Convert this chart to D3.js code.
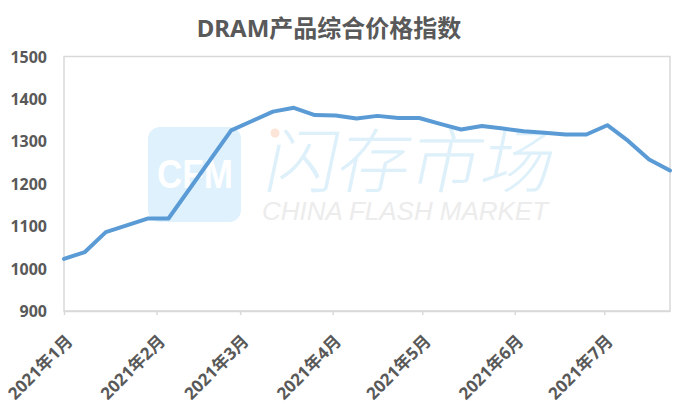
<!DOCTYPE html>
<html><head><meta charset="utf-8">
<script src="https://cdn.jsdelivr.net/npm/d3@7"></script>
<style>
html,body{margin:0;padding:0;background:#fff;}
svg{display:block;}
</style></head>
<body>
<svg id="chart" width="680" height="405"></svg>
<script>
const titleText = "DRAM产品综合价格指数";
const dates = ["2021-01-01","2021-01-08","2021-01-15","2021-01-22","2021-01-29","2021-02-05",
  "2021-02-26","2021-03-05","2021-03-12","2021-03-19","2021-03-26","2021-04-02","2021-04-09",
  "2021-04-16","2021-04-23","2021-04-30","2021-05-07","2021-05-14","2021-05-21","2021-05-28",
  "2021-06-04","2021-06-11","2021-06-18","2021-06-25","2021-07-02","2021-07-09","2021-07-16","2021-07-23"];
const values = [1023,1039,1086,1102,1118,1118,
  1326,1348,1370,1379,1362,1361,1354,
  1360,1355,1355,1341,1328,1336,1330,
  1324,1320,1316,1316,1338,1301,1257,1231];
const monthTicks = ["2021-01-01","2021-02-01","2021-03-01","2021-04-01","2021-05-01","2021-06-01","2021-07-01"];
const monthLabels = ["2021年1月","2021年2月","2021年3月","2021年4月","2021年5月","2021年6月","2021年7月"];
const yTicks = [900,1000,1100,1200,1300,1400,1500];
const domainEnd = "2021-07-23";

const parse = d3.timeParse("%Y-%m-%d");
const svg = d3.select("#chart");
const L = 64, R = 670, T = 56.5, B = 311;
const x = d3.scaleTime().domain([parse(dates[0]), parse(domainEnd)]).range([L, R]);
const y = d3.scaleLinear().domain([900, 1500]).range([B, T]);
const fontLatin = "'Noto Sans','Noto Sans CJK SC',sans-serif";
const textColor = "#595959";

// Title
svg.append("text").attr("x", 329).attr("y", 37).attr("text-anchor", "middle")
  .attr("font-family", fontLatin).attr("font-weight", "bold").attr("font-size", 24)
  .attr("fill", textColor).text(titleText);

// Watermark
const wm = svg.append("g");
wm.append("rect").attr("x", 148).attr("y", 127).attr("width", 93).attr("height", 95)
  .attr("rx", 12).attr("fill", "#def1fc");
wm.append("text").attr("x", 157).attr("y", 188).attr("textLength", 76).attr("lengthAdjust", "spacingAndGlyphs")
  .attr("font-family", "'Liberation Sans',Arial,sans-serif").attr("font-weight", "bold").attr("font-size", 41)
  .attr("fill", "#ffffff").text("CFM");
wm.append("text").attr("x", 0).attr("y", 0)
  .attr("transform", "translate(262,187) skewX(-12)")
  .attr("textLength", 288).attr("lengthAdjust", "spacingAndGlyphs")
  .attr("font-family", "'Noto Sans CJK SC',sans-serif").attr("font-weight", 300).attr("font-size", 70)
  .attr("fill", "#def0fa").text("闪存市场");
wm.append("circle").attr("cx", 275).attr("cy", 133).attr("r", 4.5).attr("fill", "#fde4d8");
wm.append("text").attr("x", 262).attr("y", 220).attr("textLength", 286).attr("lengthAdjust", "spacingAndGlyphs")
  .attr("font-family", "'Liberation Sans',Arial,sans-serif").attr("font-style", "italic").attr("font-size", 25)
  .attr("fill", "#ececec").text("CHINA FLASH MARKET");

// Plot border
svg.append("rect").attr("x", L).attr("y", T).attr("width", R - L).attr("height", B - T)
  .attr("fill", "none").attr("stroke", "#d9d9d9").attr("stroke-width", 1.5);

// X axis
const xAxis = d3.axisBottom(x).tickValues(monthTicks.map(parse))
  .tickFormat((d, i) => monthLabels[i]).tickSize(4).tickSizeOuter(0);
const gx = svg.append("g").attr("transform", `translate(0,${B})`).call(xAxis);
gx.select(".domain").attr("stroke", "#d9d9d9").attr("stroke-width", 1.5);
gx.selectAll(".tick line").attr("stroke", "#d9d9d9").attr("stroke-width", 1.5);
gx.selectAll(".tick text")
  .attr("font-family", fontLatin).attr("font-weight", "bold").attr("font-size", 17)
  .attr("fill", textColor).attr("text-anchor", "end")
  .attr("x", 0).attr("y", 0).attr("dy", "0.35em")
  .attr("transform", "translate(5,27) rotate(-45)");

// Y axis
const yAxis = d3.axisLeft(y).tickValues(yTicks).tickFormat(d3.format("d")).tickSize(0).tickPadding(0);
const gy = svg.append("g").attr("transform", `translate(47,0)`).call(yAxis);
gy.select(".domain").remove();
gy.selectAll(".tick text")
  .attr("font-family", fontLatin).attr("font-weight", "bold").attr("font-size", 16)
  .attr("fill", textColor).attr("dy", "0.35em");

// Line
const data = dates.map((d, i) => ({ date: parse(d), value: values[i] }));
const line = d3.line().x(d => x(d.date)).y(d => y(d.value));
svg.append("path").datum(data).attr("d", line)
  .attr("fill", "none").attr("stroke", "#5b9bd5").attr("stroke-width", 4)
  .attr("stroke-linejoin", "round").attr("stroke-linecap", "round");
</script>
</body></html>
